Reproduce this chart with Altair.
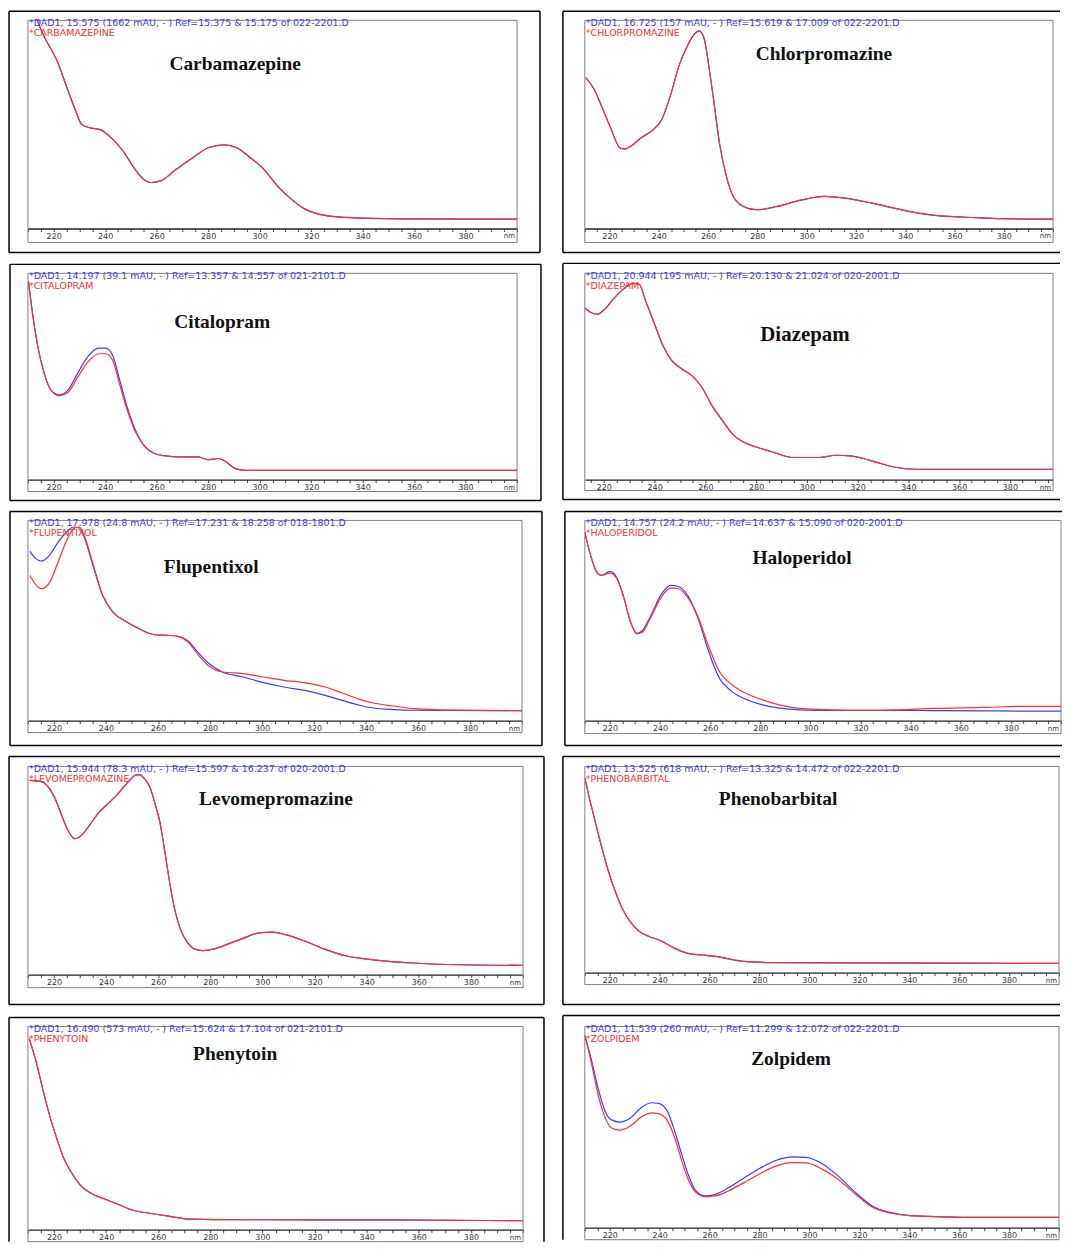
import math
import altair as alt
import pandas as pd

BLUE = "#3c3cff"
RED = "#ff3030"

# ---------------- data (wavelength nm, relative absorbance %) ----------------
carb_nm = [213, 215.6, 221.6, 224.9, 228.3, 230.9, 233.6, 238.3, 242.9, 246.9, 251.6, 254.9, 257.6,
           261.6, 266.9, 273.6, 280.3, 286.3, 290.9, 296.3, 301.6, 306.9, 312.3, 317.6, 322.9, 328.3,
           338.9, 360.3, 400]
carb_red = [102, 94, 79.7, 68.5, 57.3, 50, 48.5, 47.4, 42.9, 37.3, 28.5, 23.7, 22.1,
            22.9, 27.7, 33.6, 38.9, 40.2, 38.9, 34.1, 28.5, 20.5, 14.1, 9.3, 6.9, 5.8,
            5.0, 4.6, 4.5]
carb_blue = list(carb_red)

chlo_nm = [210.4, 213.8, 217.3, 220.7, 224.1, 226.2, 228.9, 233.0, 237.2, 241.3, 244.7, 248.2, 251.6,
           255.0, 256.4, 258.5, 260.5, 262.6, 264.6, 267.4, 270.1, 274.3, 279.8, 288.0, 297.6, 307.2,
           315.5, 326.5, 337.4, 351.2, 370.4, 395.0, 400]
chlo_red = [72.5, 66.9, 57.3, 47.7, 38.9, 38.1, 39.7, 43.7, 46.9, 52.5, 63.7, 78.1, 87.7,
            94.0, 94.9, 90.9, 76.5, 58.9, 41.3, 25.3, 15.7, 10.6, 9.0, 10.6, 13.6, 15.4,
            14.6, 12.2, 9.3, 6.4, 5.1, 4.5, 4.5]
chlo_blue = list(chlo_red)

cita_nm = [210.2, 211.6, 213.6, 216.3, 218.9, 222.3, 225.6, 229.5, 233.5, 237.5, 240.2, 242.8, 245.5,
           248.1, 251.4, 254.8, 258.7, 262.7, 269.3, 275.9, 279.9, 283.9, 286.6, 290.6, 294.5, 306.5, 400]
cita_red = [96, 82.3, 66.1, 51.6, 43.5, 40.6, 42.3, 50, 57.3, 61, 61, 58.1, 46.8,
            35.5, 24.2, 16.9, 12.9, 11.6, 11.0, 11.0, 9.7, 10.2, 8.9, 5.3, 4.5, 4.5, 4.5]
cita_blue = [96, 82.3, 66.1, 51.6, 43.5, 41.1, 43.5, 52, 60, 63.7, 63.7, 60.5, 49,
             37, 25, 16.9, 12.9, 11.6, 11.0, 11.0, 9.7, 10.2, 8.9, 5.3, 4.5, 4.5, 4.5]

diaz_nm = [212.4, 214.7, 217.3, 220, 224, 228, 231.3, 233.9, 236.6, 239.9, 243.2, 246.6, 250.5, 255.2,
           258.5, 262.5, 267.1, 270.5, 274.4, 279.8, 287.7, 294.4, 305, 311.6, 316.9, 322.3, 327.6,
           334.2, 343.5, 397]
diaz_red = [83.3, 81.1, 80.1, 82.2, 87.9, 92.7, 95.1, 94.7, 86.2, 75.7, 65.2, 57.9, 53.9, 49.8,
            45, 36.1, 28, 22.3, 18.6, 15.9, 12.9, 10.7, 10.7, 11.8, 11.5, 10.2, 8.3,
            6.1, 5.0, 5.0]
diaz_blue = list(diaz_red)

flup_nm = [210.8, 213, 215.3, 218.3, 221.6, 224.9, 227.5, 229.8, 232.1, 235, 238.7, 242.7, 248, 253.2,
           258.5, 263.7, 267.7, 271.6, 275.6, 279.6, 284.8, 292.7, 300.6, 308.5, 316.4, 324.3, 330.9,
           337.5, 342.8, 350.7, 358.6, 371.8, 400]
flup_red = [72.5, 67.9, 65.9, 68.9, 79.2, 90, 95.8, 96.7, 90.8, 78.4, 62.6, 54.2, 49.3, 45.6,
            42.9, 42.6, 42.1, 39.3, 32.6, 27.3, 24.3, 23.5, 21.8, 20.1, 19, 16.8, 13.8,
            10.6, 8.8, 7.3, 6.0, 5.3, 5.0]
flup_blue = [84.5, 80.9, 79.7, 82.5, 89.2, 94.2, 96.7, 96.2, 90, 77.5, 62.6, 54.2, 49.3, 45.6,
             42.9, 42.6, 42.1, 39.8, 33.8, 28.5, 24.3, 21.8, 19, 16.8, 15.1, 12.6, 10.1,
             7.7, 6.3, 5.5, 5.2, 5.1, 5.0]

halo_nm = [210, 211.9, 214.3, 216.6, 220, 222.7, 225.4, 228.1, 230.8, 232.9, 236.3, 240.3, 244.4, 247.1,
           251.2, 255.3, 259.3, 263.4, 268.8, 274.2, 281, 290.5, 295.9, 308.1, 321.7, 335.3, 348.8,
           369.2, 382.7, 400]
halo_red = [94.2, 84.4, 75.3, 72.5, 73.7, 71.2, 62.2, 49.8, 43.3, 44.1, 51.5, 61.3, 66.3, 66,
            61.3, 51.5, 37.5, 25.2, 17.8, 13.7, 10.4, 7.1, 6.1, 5.4, 5.1, 5.4, 6.1,
            6.6, 7.1, 7.1]
halo_blue = [94.2, 84.4, 75.3, 72.5, 74.5, 71.5, 62.2, 49.8, 43.6, 44.9, 52.3, 62.7, 67.6, 67.1,
             62.2, 50.7, 35, 21.9, 14.5, 10.7, 7.9, 5.9, 5.4, 5.1, 5.1, 5.1, 5.0,
             4.9, 4.8, 4.8]

levo_nm = [210.6, 214.8, 217.4, 220, 222.6, 225.2, 227.9, 230.5, 233.8, 237.1, 241, 244.3, 246.9, 249.5,
           251.5, 253, 254.8, 256.7, 258.7, 260.7, 262.6, 264.6, 266.6, 268.5, 271.1, 273.8, 277,
           281.6, 286.9, 292.1, 298.7, 303.9, 309.2, 315.7, 323.6, 331.5, 339.3, 348.5, 357.7,
           370.8, 400]
levo_red = [93.3, 92.8, 90.8, 85.7, 77.7, 69.7, 65.3, 66.9, 72.1, 77.7, 82.5, 86.5, 90.4, 94,
            96, 96, 94, 90.4, 82.5, 72.9, 58.6, 42.7, 29.9, 22, 15.6, 12.4, 11.6,
            12.4, 14.8, 17.2, 20.1, 20.4, 19.1, 16.4, 12.4, 9.2, 7.6, 6.4, 5.6,
            4.9, 4.5]
levo_blue = list(levo_red)

phen_nm = [210, 212, 214, 216.7, 219.3, 222, 225.3, 228.7, 232, 235.3, 240.7, 246, 251.3, 256.7,
           263.3, 270, 276.7, 286, 400]
phen_red = [94.3, 83.8, 74.1, 61.2, 49.8, 40.1, 30.4, 23.9, 19.9, 17.8, 15.4, 11.8, 9.4, 8.6,
            7.8, 6.1, 5.2, 4.9, 4.5]
phen_blue = list(phen_red)

phty_nm = [210.5, 213.1, 215.8, 218.4, 221.1, 223.7, 226.3, 229.6, 234.2, 239.5, 244.8, 250.1, 256.7,
           263.3, 272.5, 292.3, 349, 400]
phty_red = [94, 82.9, 68.6, 55.9, 44.8, 35.3, 29, 22.7, 17.9, 15.1, 12.4, 9.7, 8.1,
            6.8, 5.2, 4.9, 4.8, 4.4]
phty_blue = list(phty_red)

zolp_nm = [210, 212.6, 215.3, 218, 220.7, 224, 228.1, 232.8, 236.8, 239.5, 242.9, 246.2, 248.9, 251.6,
           254.3, 258.3, 262.3, 267.7, 273.1, 279.8, 286.5, 293.3, 298.6, 305.3, 312.1, 318.8, 325.5,
           332.2, 340.3, 353.7, 367.2, 400]
zolp_red = [95.6, 82.1, 66.2, 55.2, 49.6, 48.5, 50.4, 55.2, 57.1, 56.7, 53.6, 44.1, 33, 23.5,
            17.9, 15.5, 15.8, 18.4, 21.9, 26.6, 30.6, 32.3, 32.2, 29, 23.5, 16.3, 10,
            7.3, 6, 5.4, 5.1, 5.1]
zolp_blue = [95.6, 83.7, 69.4, 58.3, 53.6, 52.5, 54.4, 59.9, 62.1, 61.8, 58.3, 47.2, 36.1, 25.8,
             18.7, 15.8, 16.6, 20, 24.2, 29.3, 33.4, 35.2, 35, 31.7, 25, 17.1, 10.5,
             7.6, 6, 5.4, 5.1, 5.1]

titles = ["Carbamazepine", "Chlorpromazine", "Citalopram", "Diazepam", "Flupentixol",
          "Haloperidol", "Levomepromazine", "Phenobarbital", "Phenytoin", "Zolpidem"]
headers = [
    "*DAD1, 15.575 (1662 mAU, - ) Ref=15.375 & 15.175 of 022-2201.D",
    "*DAD1, 16.725 (157 mAU, - ) Ref=15.619 & 17.009 of 022-2201.D",
    "*DAD1, 14.197 (39.1 mAU, - ) Ref=13.357 & 14.557 of 021-2101.D",
    "*DAD1, 20.944 (195 mAU, - ) Ref=20.130 & 21.024 of 020-2001.D",
    "*DAD1, 17.978 (24.8 mAU, - ) Ref=17.231 & 18.258 of 018-1801.D",
    "*DAD1, 14.757 (24.2 mAU, - ) Ref=14.637 & 15.090 of 020-2001.D",
    "*DAD1, 15.944 (78.3 mAU, - ) Ref=15.597 & 16.237 of 020-2001.D",
    "*DAD1, 13.525 (618 mAU, - ) Ref=13.325 & 14.472 of 022-2201.D",
    "*DAD1, 16.490 (573 mAU, - ) Ref=15.624 & 17.104 of 021-2101.D",
    "*DAD1, 11.539 (260 mAU, - ) Ref=11.299 & 12.072 of 022-2201.D",
]
labels = ["*CARBAMAZEPINE", "*CHLORPROMAZINE", "*CITALOPRAM", "*DIAZEPAM", "*FLUPENTIXOL",
          "*HALOPERIDOL", "*LEVOMEPROMAZINE", "*PHENOBARBITAL", "*PHENYTOIN", "*ZOLPIDEM"]
series = [(carb_nm, carb_red, carb_blue), (chlo_nm, chlo_red, chlo_blue), (cita_nm, cita_red, cita_blue),
          (diaz_nm, diaz_red, diaz_blue), (flup_nm, flup_red, flup_blue), (halo_nm, halo_red, halo_blue),
          (levo_nm, levo_red, levo_blue), (phen_nm, phen_red, phen_blue), (phty_nm, phty_red, phty_blue),
          (zolp_nm, zolp_red, zolp_blue)]
domains = [[210, 400], [210, 400], [210, 400], [212.5, 397], [210, 400],
           [210, 400], [210, 400], [210, 400], [210, 400], [210, 400]]

# ---------------- layout (page pixels) ----------------
# plot: left, top, right, axis line, box bottom ; frame: left, top, right, bottom ; sides drawn
layout = [
    dict(plot=(27, 20, 518, 229, 243), frame=(8, 11, 541, 253), sides="tlbr", tc=(235, 64), tfs=19.5),
    dict(plot=(585, 20, 1055, 229, 243), frame=(563, 11, 1062, 253), sides="tlb", tc=(825, 54), tfs=19.5),
    dict(plot=(26, 273, 517, 480, 492), frame=(8, 264, 541, 501), sides="tlbr", tc=(221, 322), tfs=19.5),
    dict(plot=(585, 274, 1055, 481, 492), frame=(563, 264, 1062, 501), sides="tlb", tc=(806, 336), tfs=21),
    dict(plot=(26, 521, 522, 722, 734), frame=(8, 512, 542, 747), sides="tlbr", tc=(210, 568), tfs=19.5),
    dict(plot=(583, 521, 1061, 722, 735), frame=(563, 512, 1062, 747), sides="tlb", tc=(801, 559), tfs=19.5),
    dict(plot=(27, 768, 524, 977, 990), frame=(8, 758, 545, 1007), sides="tlbr", tc=(276, 801), tfs=19.5),
    dict(plot=(585, 768, 1061, 975, 987), frame=(563, 758, 1062, 1007), sides="tlb", tc=(779, 801), tfs=19.5),
    dict(plot=(27, 1027, 524, 1231, 1243), frame=(8, 1018, 545, 1243), sides="tlr", tc=(235, 1055), tfs=19.5),
    dict(plot=(585, 1029, 1061, 1231, 1243), frame=(563, 1018, 1062, 1243), sides="tl", tc=(792, 1062), tfs=19.5),
]

ONE = pd.DataFrame({"k": [0]})
LABEL_EXPR = "(datum.value % 20 == 0 && datum.value >= 220 && datum.value <= 380) ? datum.label : ''"


def panel(i):
    g = layout[i]
    L, T, R, A, B = g["plot"]
    FL, FT, FR, FB = g["frame"]
    w, h = R - L, A - T
    d0, d1 = domains[i]
    ticks = list(range(int(math.ceil(d0 / 5.0)) * 5, int(math.floor(d1)) + 1, 5))
    nm, red, blue = series[i]

    xs = alt.Scale(domain=[d0, d1], nice=False, zero=False)
    ys = alt.Scale(domain=[0, 100], nice=False, zero=False)
    ax = alt.Axis(values=ticks, labelExpr=LABEL_EXPR, grid=False, tickSize=3, tickColor="#444",
                  tickWidth=1, domainColor="#222", domainWidth=1.3, labelFont="DejaVu Sans",
                  labelFontSize=8, labelColor="#333", labelPadding=1, labelOverlap=False,
                  labelFlush=False)
    X = alt.X("nm:Q", scale=xs, axis=ax, title=None)
    Y = alt.Y("absorb:Q", scale=ys, axis=None)

    box = alt.Chart(ONE).mark_rect(filled=False, stroke="#808080", strokeWidth=1).encode(
        x=alt.value(0), x2=alt.value(w), y=alt.value(0), y2=alt.value(B - T))
    lb = alt.Chart(pd.DataFrame({"nm": nm, "absorb": blue})).mark_line(
        color=BLUE, strokeWidth=1.2, clip=True, interpolate="monotone").encode(x=X, y=Y)
    lr = alt.Chart(pd.DataFrame({"nm": nm, "absorb": red})).mark_line(
        color=RED, strokeWidth=1.2, clip=True, interpolate="monotone").encode(x=X, y=Y)
    hdr = alt.Chart(ONE).mark_text(text=headers[i], color=BLUE, font="DejaVu Sans", fontSize=9.5,
                                   align="left", baseline="middle").encode(x=alt.value(1), y=alt.value(3))
    lab = alt.Chart(ONE).mark_text(text=labels[i], color=RED, font="DejaVu Sans", fontSize=9.5,
                                   align="left", baseline="middle").encode(x=alt.value(1), y=alt.value(12.5))
    cx, cy = g["tc"]
    ttl = alt.Chart(ONE).mark_text(text=titles[i], color="#111", font="Liberation Serif", fontWeight="bold",
                                   fontSize=g["tfs"], align="center", baseline="middle").encode(
        x=alt.value(cx - L), y=alt.value(cy - T))
    nmt = alt.Chart(ONE).mark_text(text="nm", color="#333", font="DejaVu Sans", fontSize=7,
                                   align="right", baseline="middle").encode(
        x=alt.value(w - 2), y=alt.value(h + 8))

    fx0, fx1, fy0, fy1 = FL - L, FR - L, FT - T, FB - T
    rules = []
    seg = {"t": (fx0, fx1, fy0, fy0), "b": (fx0, fx1, fy1, fy1),
           "l": (fx0, fx0, fy0, fy1), "r": (fx1, fx1, fy0, fy1)}
    for s in g["sides"]:
        a, b, c, d = seg[s]
        rules.append(alt.Chart(ONE).mark_rule(color="#000", strokeWidth=1.5).encode(
            x=alt.value(a), x2=alt.value(b), y=alt.value(c), y2=alt.value(d)))

    return alt.layer(box, lb, lr, hdr, lab, ttl, nmt, *rules).properties(width=w, height=h)


charts = [panel(i) for i in range(10)]

chart = alt.concat(*charts, columns=2, spacing={"row": 9, "column": 17}, align="each",
                   bounds="full").properties(
    padding={"left": 0, "top": 0, "right": 0, "bottom": 0}, background="white"
).configure_view(strokeWidth=0)

chart.save("out.html", embed_options={"renderer": "svg", "actions": False})
